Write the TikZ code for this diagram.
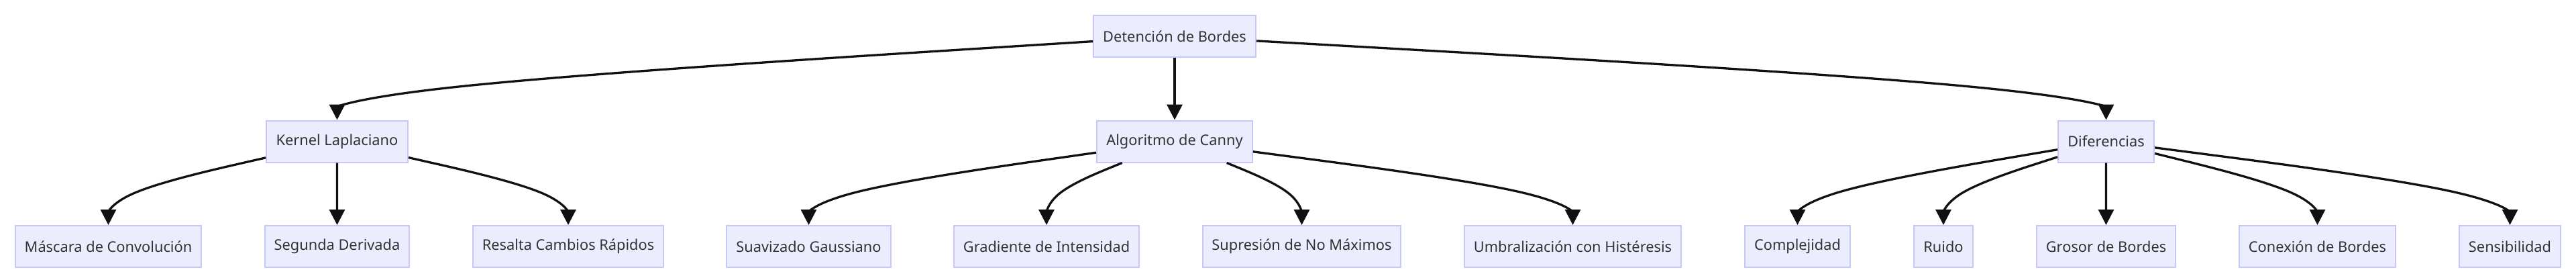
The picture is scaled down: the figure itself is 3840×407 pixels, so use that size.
\documentclass[tikz,border=0pt]{standalone}
\usepackage{fontspec}
\setmainfont{Noto Sans}
\usetikzlibrary{arrows.meta,calc}
\definecolor{boxfill}{HTML}{ECECFF}
\definecolor{boxline}{HTML}{C6C6F7}
\definecolor{txt}{HTML}{333333}
\definecolor{edgecol}{HTML}{111111}
\tikzset{
  box/.style={draw=boxline, line width=2pt, fill=boxfill, text=txt,
    font=\fontsize{21.8}{26}\selectfont, minimum height=62pt, inner sep=0pt,
    anchor=center},
  edge/.style={draw=edgecol, line width=3.3pt,
    -{Triangle[length=23pt,width=23pt]}}
}
\newcommand{\bedge}[3]{%
  \coordinate (p1) at (#2.north |- 0,#3);
  \path (p1) -- (#1) coordinate[pos=1] (p0);
  \coordinate (p2) at (#2.north);
  \coordinate (mm) at ($(p0)!.5!(p2)$);
  \coordinate (q) at ($(p1)!1/3!(mm)$);
  \draw[edge] (p0) -- ($(p0)!1/6!(p1)$) .. controls ($(p0)!1/3!(p1)$) and ($(p0)!2/3!(p1)$) .. (q) .. controls ($(p1)!1/3!(p2)$) and ($(p1)!2/3!(p2)$) .. (p2);
}
\begin{document}
\begin{tikzpicture}[x=1pt,y=-1pt]
\useasboundingbox (0,0) rectangle (3840,407);
% level 1
\node[box, minimum width=242pt] (D) at (1751,54) {Detención de Bordes};
% level 2
\node[box, minimum width=211pt] (K) at (502.5,210.5) {Kernel Laplaciano};
\node[box, minimum width=232pt] (A) at (1751,210.5) {Algoritmo de Canny};
\node[box, minimum width=143pt] (F) at (3139.5,210.5) {Diferencias};
% level 3
\node[box, minimum width=277pt] (M) at (161.5,367) {Máscara de Convolución};
\node[box, minimum width=215pt] (S) at (502.5,367) {Segunda Derivada};
\node[box, minimum width=284pt] (R) at (847,367) {Resalta Cambios Rápidos};
\node[box, minimum width=245pt] (G) at (1205.5,367) {Suavizado Gaussiano};
\node[box, minimum width=276pt] (I) at (1560,367) {Gradiente de Intensidad};
\node[box, minimum width=295pt] (N) at (1940.5,367) {Supresión de No Máximos};
\node[box, minimum width=323pt] (U) at (2344.5,367) {Umbralización con Histéresis};
\node[box, minimum width=157pt] (C) at (2679.5,367) {Complejidad};
\node[box, minimum width=88pt] (Ru) at (2897,367) {Ruido};
\node[box, minimum width=207pt] (Gr) at (3139.5,367) {Grosor de Bordes};
\node[box, minimum width=233pt] (Co) at (3454.5,367) {Conexión de Bordes};
\node[box, minimum width=151pt] (Se) at (3741.5,367) {Sensibilidad};
% edges
\bedge{D}{K}{132.5}
\bedge{D}{A}{132.5}
\bedge{D}{F}{132.5}
\bedge{K}{M}{288.5}
\bedge{K}{S}{288.5}
\bedge{K}{R}{288.5}
\bedge{A}{G}{288.5}
\bedge{A}{I}{288.5}
\bedge{A}{N}{288.5}
\bedge{A}{U}{288.5}
\bedge{F}{C}{288.5}
\bedge{F}{Ru}{288.5}
\bedge{F}{Gr}{288.5}
\bedge{F}{Co}{288.5}
\bedge{F}{Se}{288.5}
\end{tikzpicture}
\end{document}
